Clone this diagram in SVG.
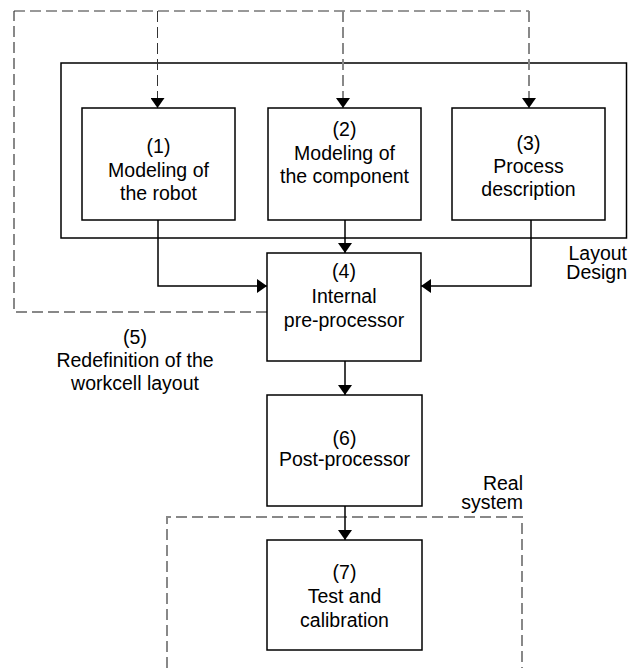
<svg xmlns="http://www.w3.org/2000/svg" width="628" height="668" viewBox="0 0 628 668">
<style>
.box{fill:#fff;stroke:#000;stroke-width:1.5}
.t{font-family:"Liberation Sans",Arial,sans-serif;font-size:19.5px;fill:#000;text-anchor:middle}
.r{text-anchor:end}
.solid{fill:none;stroke:#000;stroke-width:1.5}
.dg{fill:none;stroke:#888;stroke-width:2;stroke-dasharray:11 5}
.dk{fill:none;stroke:#333;stroke-width:1;stroke-dasharray:11 5}
</style>
<defs>
<marker id="ah" viewBox="0 0 10 14" refX="10" refY="7" markerWidth="10" markerHeight="14" markerUnits="userSpaceOnUse" orient="auto">
<path d="M0,0 L10,7 L0,14 z" fill="#000"/>
</marker>
</defs>
<rect x="0" y="0" width="628" height="668" fill="#fff"/>
<g id="layout-design">
<rect x="61" y="63" width="565.5" height="175" fill="none" stroke="#000" stroke-width="1.5"/>
<text class="t r" x="627" y="260">Layout</text>
<text class="t r" x="627" y="279">Design</text>
</g>
<g id="real-system">
<path class="dg" d="M167,668 V517 H522 V668"/>
<text class="t r" x="523" y="490">Real</text>
<text class="t r" x="523" y="509">system</text>
</g>
<g id="connectors">
<path class="dg" d="M267,312 H14 V11"/>
<path class="dk" d="M14,11 H529"/>
<path class="dk" d="M157.5,11 V108" marker-end="url(#ah)"/>
<path class="dg" d="M343,11 V108" marker-end="url(#ah)"/>
<path class="dg" d="M529,11 V108" marker-end="url(#ah)"/>
<path class="solid" d="M158,220 V286 H267" marker-end="url(#ah)"/>
<path class="solid" d="M531,220 V286 H421" marker-end="url(#ah)"/>
<path class="solid" d="M345,220 V253" marker-end="url(#ah)"/>
<path class="solid" d="M345,361 V395" marker-end="url(#ah)"/>
<path class="solid" d="M345,506 V540" marker-end="url(#ah)"/>
</g>
<g id="n1">
<rect class="box" x="82" y="108" width="153" height="112"/>
<text class="t" x="158.5" y="153">(1)</text>
<text class="t" x="158.5" y="177">Modeling of</text>
<text class="t" x="158.5" y="200">the robot</text>
</g>
<g id="n2">
<rect class="box" x="268" y="108" width="153" height="112"/>
<text class="t" x="344.5" y="136">(2)</text>
<text class="t" x="344.5" y="159.5">Modeling of</text>
<text class="t" x="344.5" y="183">the component</text>
</g>
<g id="n3">
<rect class="box" x="452" y="108" width="153" height="112"/>
<text class="t" x="528.5" y="150">(3)</text>
<text class="t" x="528.5" y="173">Process</text>
<text class="t" x="528.5" y="196">description</text>
</g>
<g id="n4">
<rect class="box" x="267" y="253" width="154" height="108"/>
<text class="t" x="344" y="278">(4)</text>
<text class="t" x="344" y="303">Internal</text>
<text class="t" x="344" y="327">pre-processor</text>
</g>
<g id="n5">
<text class="t" x="135" y="344">(5)</text>
<text class="t" x="135" y="367">Redefinition of the</text>
<text class="t" x="135" y="390">workcell layout</text>
</g>
<g id="n6">
<rect class="box" x="267" y="395" width="155" height="111"/>
<text class="t" x="344.5" y="445">(6)</text>
<text class="t" x="344.5" y="466">Post-processor</text>
</g>
<g id="n7">
<rect class="box" x="267" y="540" width="155" height="110"/>
<text class="t" x="344.5" y="579">(7)</text>
<text class="t" x="344.5" y="603">Test and</text>
<text class="t" x="344.5" y="627">calibration</text>
</g>
</svg>
